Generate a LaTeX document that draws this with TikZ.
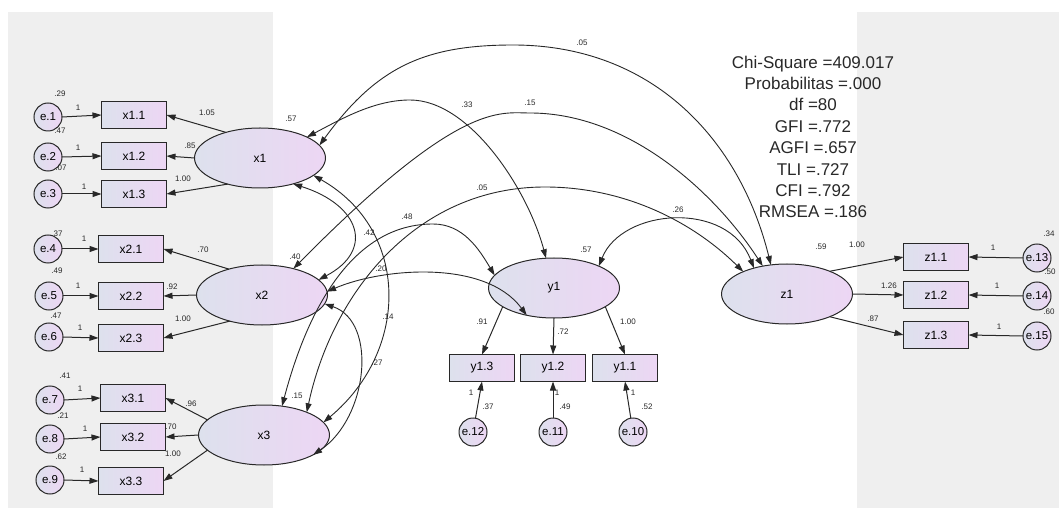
\documentclass[tikz,border=0pt]{standalone}
\usepackage{fontspec}
\setmainfont{Liberation Sans}
\usetikzlibrary{arrows.meta}
\usetikzlibrary{shapes.geometric}
\usepackage{xcolor}
\definecolor{panel}{RGB}{239,239,239}
\definecolor{shadel}{RGB}{221,225,237}
\definecolor{shader}{RGB}{237,214,244}
\definecolor{inkgray}{RGB}{40,40,40}

\begin{document}
\begin{tikzpicture}[x=1pt, y=-1pt,
	latent/.style={ellipse, draw=inkgray, line width=1pt, left color=shadel, right color=shader, minimum width=131pt, minimum height=60pt, inner sep=0pt, outer sep=0pt, font=\fontsize{12}{14}\selectfont},
	obs/.style={rectangle, draw=inkgray, line width=1.5pt, left color=shadel, right color=shader, minimum width=65pt, minimum height=27pt, inner sep=0pt, outer sep=0pt, font=\fontsize{12}{14}\selectfont},
	err/.style={circle, draw=inkgray, line width=1pt, left color=shadel, right color=shader, minimum size=28pt, inner sep=0pt, outer sep=0pt, font=\fontsize{11.5}{13}\selectfont},
	coef/.style={inner sep=0pt, font=\fontsize{8}{9}\selectfont, text=inkgray},
	one/.style={-{Triangle[length=9pt,width=6pt]}, line width=1pt, draw=inkgray},
	both/.style={{Triangle[length=9pt,width=6pt]}-{Triangle[length=9pt,width=6pt]}, line width=0.9pt, draw=inkgray},
	]
	\useasboundingbox (0,0) rectangle (1059,510);
	\fill[panel] (8,12) rectangle (273,508);
	\fill[panel] (857,12) rectangle (1059,508);
	
	% x1 block
	\node[err] (e1) at (48,117) {e.1};
	\node[err] (e2) at (48,157) {e.2};
	\node[err] (e3) at (48,194) {e.3};
	\node[obs] (x11) at (134,115) {x1.1};
	\node[obs] (x12) at (134,156) {x1.2};
	\node[obs] (x13) at (134,194) {x1.3};
	\node[latent] (x1) at (260,158) {x1};
	
	% x2 block
	\node[err] (e4) at (48,249) {e.4};
	\node[err] (e5) at (49,296) {e.5};
	\node[err] (e6) at (49,337) {e.6};
	\node[obs] (x21) at (131,249) {x2.1};
	\node[obs] (x22) at (131,296) {x2.2};
	\node[obs] (x23) at (131,338) {x2.3};
	\node[latent] (x2) at (262,295) {x2};
	
	% x3 block
	\node[err] (e7) at (50,400) {e.7};
	\node[err] (e8) at (50,439) {e.8};
	\node[err] (e9) at (50,480) {e.9};
	\node[obs] (x31) at (133,398) {x3.1};
	\node[obs] (x32) at (133,437) {x3.2};
	\node[obs] (x33) at (131,481) {x3.3};
	\node[latent] (x3) at (264,435) {x3};
	
	% y1 block
	\node[latent] (y1) at (554,288) {y1};
	\node[obs] (y13) at (482,368) {y1.3};
	\node[obs] (y12) at (553,368) {y1.2};
	\node[obs] (y11) at (625,368) {y1.1};
	\node[err] (e12) at (473,432) {e.12};
	\node[err] (e11) at (553,432) {e.11};
	\node[err] (e10) at (633,432) {e.10};
	
	% z1 block
	\node[latent] (z1) at (787,294) {z1};
	\node[obs] (z11) at (936,257) {z1.1};
	\node[obs] (z12) at (936,295) {z1.2};
	\node[obs] (z13) at (936,335) {z1.3};
	\node[err] (e13) at (1037,258) {e.13};
	\node[err] (e14) at (1037,296) {e.14};
	\node[err] (e15) at (1037,336) {e.15};
	
	% loadings
	\draw[one] (x1.143) -- (x11.east);
	\draw[one] (x1.west) -- (x12.east);
	\draw[one] (x1.219) -- (x13.east);
	\draw[one] (x2.142) -- (x21.east);
	\draw[one] (x2.west) -- (x22.east);
	\draw[one] (x2.219) -- (x23.east);
	\draw[one] (x3.165) -- (x31.east);
	\draw[one] (x3.west) -- (x32.east);
	\draw[one] (x3.195) -- (x33.east);
	\draw[one] (y1.200) -- (y13.north);
	\draw[one] (y1.south) -- (y12.north);
	\draw[one] (y1.340) -- (y11.north);
	\draw[one] (z1.28) -- (z11.west);
	\draw[one] (z1.east) -- (z12.west);
	\draw[one] (z1.332) -- (z13.west);
	
	% errors
	\draw[one] (e1.east) -- (x11.west);
	\draw[one] (e2.east) -- (x12.west);
	\draw[one] (e3.east) -- (x13.west);
	\draw[one] (e4.east) -- (x21.west);
	\draw[one] (e5.east) -- (x22.west);
	\draw[one] (e6.east) -- (x23.west);
	\draw[one] (e7.east) -- (x31.west);
	\draw[one] (e8.east) -- (x32.west);
	\draw[one] (e9.east) -- (x33.west);
	\draw[one] (e12) -- (y13.south);
	\draw[one] (e11) -- (y12.south);
	\draw[one] (e10) -- (y11.south);
	\draw[one] (e13.west) -- (z11.east);
	\draw[one] (e14.west) -- (z12.east);
	\draw[one] (e15.west) -- (z13.east);
	
	% correlations
	\draw[both] (x1.12) .. controls (376,68) and (423,45) .. (513,45) .. controls (653,45) and (740,140) .. (z1.119);
	\draw[both] (x1.24) .. controls (343,118) and (375,100) .. (410,100) .. controls (470,100) and (528,190) .. (y1.105);
	\draw[both] (x2.40) .. controls (460,100) and (500,113) .. (530,113) .. controls (630,113) and (716,194) .. (z1.131);
	\draw[both] (x3.28) .. controls (332,294) and (415,187) .. (545,187) .. controls (625,187) and (693,222) .. (z1.153);
	\draw[both] (y1.26) .. controls (622,208) and (728,200) .. (z1.142);
	\draw[both] (x3.58) .. controls (308,308) and (353,224) .. (433,224) .. controls (463,224) and (479,249) .. (y1.168);
	\draw[both] (x1.-38) .. controls (360,205) and (375,250) .. (x2.15);
	\draw[both] (x2.-8) .. controls (378,322) and (368,418) .. (x3.-22);
	\draw[both] (x2.3) .. controls (382,268) and (485,259) .. (y1.225);
	\draw[both] (x1.-18) .. controls (410,230) and (410,350) .. (x3.12);
	
	% variances
	\node[coef] (v1) at (60,94) {.29};
	\node[coef] (v2) at (60,131) {.47};
	\node[coef] (v3) at (61,168) {.07};
	\node[coef] (v4) at (57,234) {.37};
	\node[coef] (v5) at (57,271) {.49};
	\node[coef] (v6) at (56,316) {.47};
	\node[coef] (v7) at (65,376) {.41};
	\node[coef] (v8) at (63,416) {.21};
	\node[coef] (v9) at (61,457) {.62};
	\node[coef] (v12) at (488,407) {.37};
	\node[coef] (v11) at (565,407) {.49};
	\node[coef] (v10) at (647,407) {.52};
	\node[coef] (v13) at (1049,234) {.34};
	\node[coef] (v14) at (1050,272) {.50};
	\node[coef] (v15) at (1049,312) {.60};
	\node[coef] (vx1) at (291,119) {.57};
	\node[coef] (vx2) at (295,257) {.40};
	\node[coef] (vx3) at (297,396) {.15};
	\node[coef] (vy1) at (586,250) {.57};
	\node[coef] (vz1) at (821,247) {.59};
	
	% loading values
	\node[coef] (l11) at (207,113) {1.05};
	\node[coef] (l12) at (190,146) {.85};
	\node[coef] (l13) at (183,179) {1.00};
	\node[coef] (l21) at (203,250) {.70};
	\node[coef] (l22) at (172,287) {.92};
	\node[coef] (l23) at (183,319) {1.00};
	\node[coef] (l31) at (191,404) {.96};
	\node[coef] (l32) at (171,427) {.70};
	\node[coef] (l33) at (173,454) {1.00};
	\node[coef] (ly3) at (482,322) {.91};
	\node[coef] (ly2) at (563,332) {.72};
	\node[coef] (ly1) at (628,322) {1.00};
	\node[coef] (lz1) at (857,245) {1.00};
	\node[coef] (lz2) at (889,286) {1.26};
	\node[coef] (lz3) at (873,319) {.87};
	
	% fixed error weights
	\node[coef] (w1) at (78,108) {1};
	\node[coef] (w2) at (78,148) {1};
	\node[coef] (w3) at (84,187) {1};
	\node[coef] (w4) at (84,239) {1};
	\node[coef] (w5) at (78,286) {1};
	\node[coef] (w6) at (80,328) {1};
	\node[coef] (w7) at (80,389) {1};
	\node[coef] (w8) at (85,429) {1};
	\node[coef] (w9) at (82,470) {1};
	\node[coef] (w12) at (471,393) {1};
	\node[coef] (w11) at (557,393) {1};
	\node[coef] (w10) at (633,393) {1};
	\node[coef] (w13) at (993,248) {1};
	\node[coef] (w14) at (997,286) {1};
	\node[coef] (w15) at (999,327) {1};
	
	% correlation values
	\node[coef] (c1) at (582,43) {.05};
	\node[coef] (c2) at (467,105) {.33};
	\node[coef] (c3) at (530,103) {.15};
	\node[coef] (c4) at (482,188) {.05};
	\node[coef] (c5) at (678,210) {.26};
	\node[coef] (c6) at (407,217) {.48};
	\node[coef] (c7) at (369,233) {.42};
	\node[coef] (c8) at (381,269) {.20};
	\node[coef] (c9) at (388,317) {.14};
	\node[coef] (c10) at (377,363) {.27};
	
	\node[align=center, font=\fontsize{17}{21.4}\selectfont, text=inkgray] (fit) at (813,137) {Chi-Square =409.017\\Probabilitas =.000\\df =80\\GFI =.772\\AGFI =.657\\TLI =.727\\CFI =.792\\RMSEA =.186};
\end{tikzpicture}
\end{document}
